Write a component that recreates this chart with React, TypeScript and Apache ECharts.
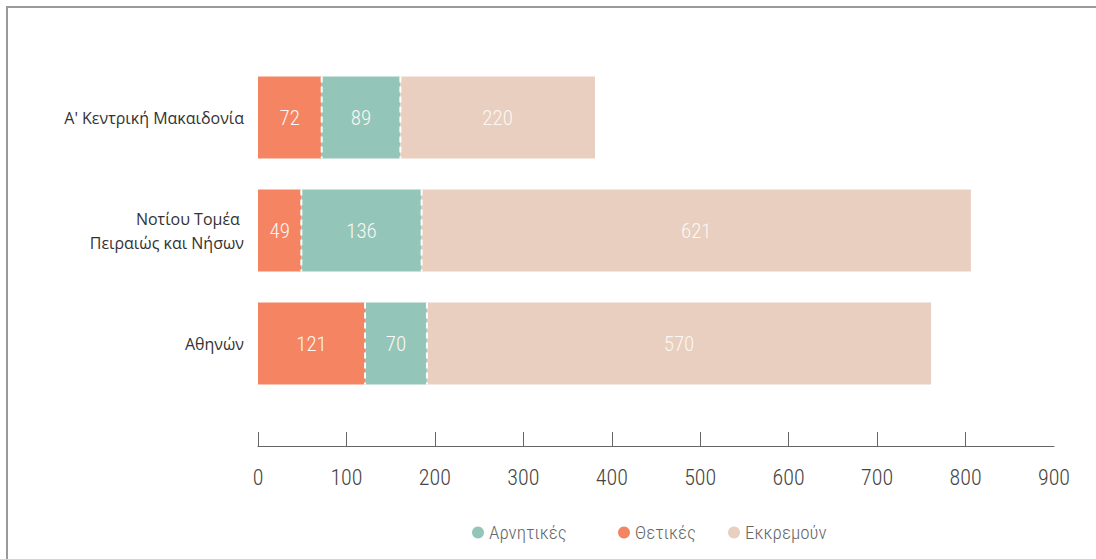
import React, { useEffect, useRef } from "react";
import * as echarts from "echarts";

const categories = ["Α' Κεντρική Μακαιδονία", "Νοτίου Τομέα \nΠειραιώς και Νήσων", "Αθηνών"];
const positive = [72, 49, 121];
const negative = [89, 136, 70];
const pending = [220, 621, 570];
const tickValues = [0, 100, 200, 300, 400, 500, 600, 700, 800];
const legendNames = ["Αρνητικές", "Θετικές", "Εκκρεμούν"];

const NARROW = "'Roboto Condensed', 'Liberation Sans Narrow', 'DejaVu Sans Condensed', Roboto, sans-serif";

export default function App() {
  const ref = useRef<HTMLDivElement>(null);
  useEffect(() => {
    if (!ref.current) return;
    const chart = echarts.init(ref.current, null, { renderer: "svg" });
    const label = {
      show: true,
      position: "inside",
      color: "#fbf7f4",
      fontSize: 21,
      fontWeight: 300,
      fontFamily: NARROW,
    };
    const separators: number[][] = [];
    categories.forEach((_, i) => {
      separators.push([positive[i], i]);
      separators.push([positive[i] + negative[i], i]);
    });
    const legendLefts = [467, 613, 723];
    chart.setOption({
      animation: false,
      legend: legendNames.map((n, i) => ({
        left: legendLefts[i],
        top: 518,
        icon: "circle",
        itemWidth: 12,
        itemHeight: 12,
        itemTextGap: 8,
        textStyle: { color: "#666", fontSize: 19, fontWeight: 300, fontFamily: NARROW },
        data: [n],
      })),
      grid: { left: 258, right: 42, top: 61, height: 339, containLabel: false },
      xAxis: {
        type: "value",
        min: 0,
        max: 900,
        interval: 100,
        offset: 46,
        splitLine: { show: false },
        axisLine: { show: true, lineStyle: { color: "#666", width: 1 } },
        axisTick: { show: true, inside: true, length: 14, lineStyle: { color: "#666" }, customValues: tickValues },
        axisLabel: { color: "#444", fontSize: 22, fontWeight: 300, fontFamily: NARROW, margin: 20 },
      },
      yAxis: {
        type: "category",
        inverse: true,
        data: categories,
        axisLine: { show: false },
        axisTick: { show: false },
        axisLabel: { color: "#333", fontSize: 16, fontFamily: "'Open Sans', sans-serif", margin: 14, lineHeight: 24, align: "right" },
      },
      series: [
        { name: "Θετικές", type: "bar", stack: "t", data: positive, barWidth: 82, itemStyle: { color: "#F48462" }, label },
        { name: "Αρνητικές", type: "bar", stack: "t", data: negative, barWidth: 82, itemStyle: { color: "#93C6B8" }, label },
        { name: "Εκκρεμούν", type: "bar", stack: "t", data: pending, barWidth: 82, itemStyle: { color: "#E8CFBF" }, label },
        {
          type: "custom",
          data: separators,
          z: 10,
          silent: true,
          renderItem: (params: any, api: any) => {
            const p = api.coord([api.value(0), api.value(1)]);
            const h = 82;
            return {
              type: "line",
              shape: { x1: p[0], y1: p[1] - h / 2, x2: p[0], y2: p[1] + h / 2 },
              style: { stroke: "#ffffff", lineWidth: 2, lineDash: [6, 4] },
            };
          },
        },
      ],
    });
    return () => chart.dispose();
  }, []);
  return (
    <div style={{ position: "fixed", left: 0, top: 0, width: 1096, height: 559, overflow: "hidden", background: "#fff" }}>
      <div style={{ position: "absolute", left: 6, top: 6, width: 1200, height: 700, borderLeft: "2px solid #9a9a9a", borderTop: "2px solid #9a9a9a" }} />
      <div ref={ref} style={{ position: "absolute", left: 0, top: 0, width: 1096, height: 559 }} />
    </div>
  );
}
